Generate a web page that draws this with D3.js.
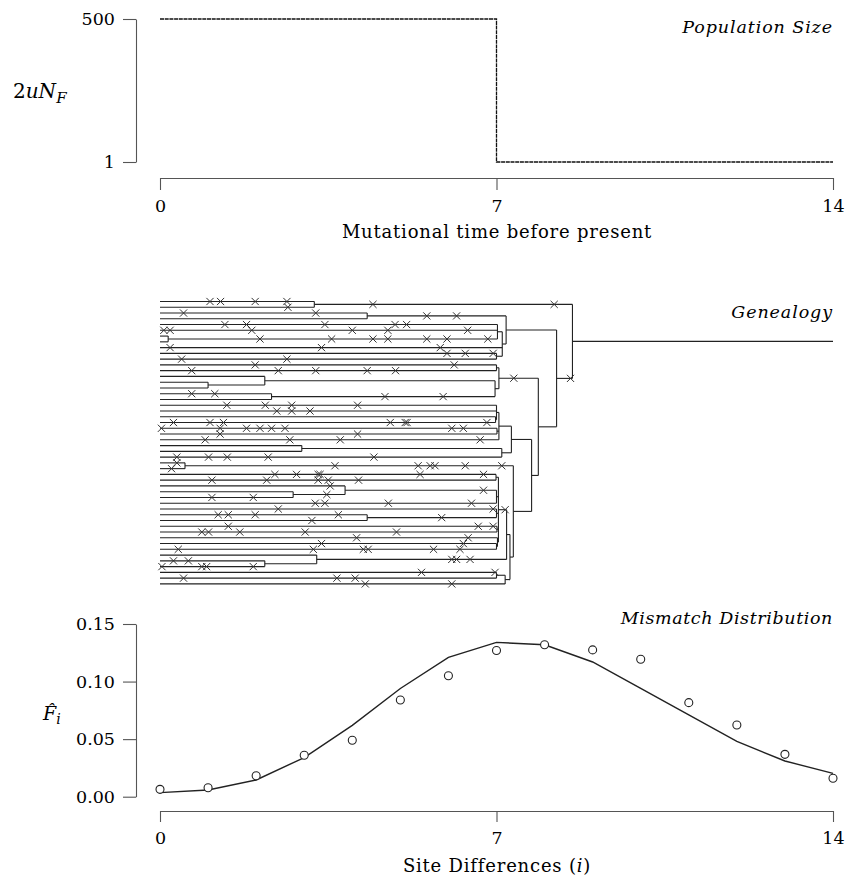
<!DOCTYPE html>
<html>
<head>
<meta charset="utf-8">
<script src="https://cdn.jsdelivr.net/npm/d3@7"></script>
<style>
  body { margin: 0; background: white; }
  text { font-family: "DejaVu Serif", "Liberation Serif", serif; fill: black; }
</style>
</head>
<body>
<div id="container"></div>
<script>
let w = 846;
let h = 879;

// DATA
// population size panel (step function)
let popTimes = [0, 7, 7, 14];
let popSizes = [500, 500, 1, 1];
let sizeTicks = [1, 500];
let timeTicks = [0, 7, 14];

// mismatch panel
let siteDiffs = [0, 1, 2, 3, 4, 5, 6, 7, 8, 9, 10, 11, 12, 13, 14];
let observedF = [0.0064, 0.0078, 0.0182, 0.036, 0.049, 0.084, 0.105, 0.127, 0.132, 0.1275, 0.1194, 0.0817, 0.0623, 0.0368, 0.016];
let expectedF = [0.0035, 0.0058, 0.0145, 0.034, 0.062, 0.094, 0.121, 0.134, 0.132, 0.117, 0.094, 0.071, 0.048, 0.031, 0.0203];
let mismatchTicks = [0, 0.05, 0.10, 0.15];

// genealogy: 50 sampled sequences (leaves 0..49 from top), internal nodes [id, time, children]
let leafCount = 50;
let treeNodes = [
  ["root", 8.58, ["nA", "nC"]],
  ["nA", 3.21, ["0", "1"]],
  ["nC", 8.25, ["nD", "nE"]],
  ["nD", 7.20, ["nB", "nK1"]],
  ["nB", 4.31, ["2", "3"]],
  ["nK1", 7.12, ["nK1a", "8", "nK1c"]],
  ["nK1a", 7.02, ["4", "5", "c67"]],
  ["c67", 0.17, ["6", "7"]],
  ["nK1c", 7.00, ["9", "10"]],
  ["nE", 7.87, ["nEtop", "nG"]],
  ["nEtop", 7.05, ["nL", "nF"]],
  ["nL", 7.00, ["11", "12"]],
  ["nF", 6.97, ["nF1", "nF2"]],
  ["nF1", 2.18, ["13", "c1415"]],
  ["c1415", 1.00, ["14", "15"]],
  ["nF2", 2.32, ["16", "17"]],
  ["nG", 7.73, ["nH", "nI"]],
  ["nH", 7.31, ["cl2", "nHb"]],
  ["cl2", 7.05, ["c2a", "c2c", "24"]],
  ["c2a", 7.00, ["18", "19", "c2b"]],
  ["c2b", 6.98, ["20", "21"]],
  ["c2c", 7.01, ["22", "23"]],
  ["nHb", 7.11, ["c2526", "27"]],
  ["c2526", 2.95, ["25", "26"]],
  ["nI", 7.35, ["c2829", "nJ"]],
  ["c2829", 0.52, ["28", "29"]],
  ["nJ", 7.28, ["nJtop", "nJbot"]],
  ["nJtop", 7.21, ["cl3", "n44"]],
  ["cl3", 7.04, ["cl3a", "cl3b", "cl3c", "cl3d", "cl3e"]],
  ["cl3a", 6.99, ["30", "31"]],
  ["cl3b", 7.00, ["n3234", "35"]],
  ["n3234", 3.85, ["32", "c3334"]],
  ["c3334", 2.77, ["33", "34"]],
  ["cl3c", 7.00, ["36", "c3738"]],
  ["c3738", 4.31, ["37", "38"]],
  ["cl3d", 7.01, ["39", "40"]],
  ["cl3e", 7.02, ["41", "cl3f"]],
  ["cl3f", 7.00, ["42", "43"]],
  ["n44", 3.26, ["44", "c4546"]],
  ["c4546", 2.18, ["45", "46"]],
  ["nJbot", 7.18, ["nJb1", "49"]],
  ["nJb1", 7.00, ["47", "48"]]
];

// mutations: [branch, time]
let mutations = [
  ["0", 1.04], ["0", 1.26], ["0", 1.98], ["0", 2.64], ["1", 2.66],
  ["nA", 4.43], ["nA", 8.2], ["2", 0.49], ["2", 3.24], ["nB", 5.55], ["nB", 6.17],
  ["4", 1.35], ["4", 1.80], ["4", 3.43], ["4", 4.89], ["4", 5.13],
  ["5", 0.08], ["5", 0.21], ["5", 1.91], ["5", 4.0], ["5", 4.74], ["5", 6.40],
  ["c67", 2.08], ["c67", 3.57], ["c67", 4.43], ["c67", 4.74], ["c67", 5.55], ["c67", 5.97], ["c67", 6.82],
  ["8", 0.21], ["8", 3.36], ["8", 5.83], ["9", 5.97], ["9", 6.35], ["9", 6.93],
  ["10", 0.45], ["10", 2.64], ["11", 1.98], ["11", 6.12],
  ["12", 0.66], ["12", 2.46], ["12", 3.24], ["12", 4.31], ["12", 4.90],
  ["nEtop", 7.36], ["nC", 8.54], ["16", 0.66], ["16", 1.14], ["nF2", 4.68], ["nF2", 5.89],
  ["18", 1.39], ["18", 2.19], ["18", 2.74], ["18", 4.11], ["19", 2.43], ["19", 2.74], ["19", 3.12],
  ["21", 0.28], ["21", 1.04], ["21", 1.32], ["21", 4.79], ["21", 5.10], ["21", 5.14], ["21", 6.80],
  ["22", 0.03], ["22", 1.25], ["22", 1.80], ["22", 2.08], ["22", 2.32], ["22", 2.60], ["22", 6.07], ["22", 6.31],
  ["23", 1.25], ["23", 4.11], ["24", 0.94], ["24", 2.70], ["24", 3.75], ["24", 6.66],
  ["27", 0.35], ["27", 1.01], ["27", 1.40], ["27", 2.25], ["27", 4.45], ["28", 0.35], ["29", 0.24],
  ["c2829", 3.64], ["c2829", 5.37], ["c2829", 5.62], ["c2829", 5.72], ["c2829", 6.35], ["c2829", 7.11],
  ["30", 2.39], ["30", 2.84], ["30", 3.29], ["30", 3.33], ["30", 5.41], ["30", 6.73],
  ["31", 1.08], ["31", 2.22], ["31", 3.29], ["31", 3.50], ["31", 4.13],
  ["32", 3.54], ["n3234", 6.73], ["c3334", 3.47], ["34", 1.08], ["34", 1.94],
  ["35", 3.23], ["35", 3.43], ["35", 4.75], ["35", 6.48], ["36", 2.46], ["36", 6.93], ["cl3", 7.18],
  ["37", 1.21], ["37", 1.42], ["37", 1.98], ["37", 3.71], ["38", 3.16], ["c3738", 5.86],
  ["39", 1.42], ["39", 6.62], ["39", 6.93], ["40", 0.87], ["40", 1.01], ["40", 1.66], ["40", 3.02], ["40", 4.92],
  ["41", 4.09], ["41", 6.41], ["42", 3.36], ["42", 6.31],
  ["43", 0.38], ["43", 3.19], ["43", 4.23], ["43", 4.33], ["43", 5.69], ["43", 6.24],
  ["45", 0.28], ["45", 0.59], ["n44", 6.07], ["n44", 6.17], ["n44", 6.45],
  ["46", 0.04], ["46", 0.87], ["46", 0.97], ["46", 1.94], ["47", 5.44], ["47", 6.97],
  ["48", 0.49], ["48", 3.68], ["48", 4.06], ["49", 4.27], ["49", 6.07]
];

// SVG
let viz = d3.select("#container").append("svg")
    .attr("width", w)
    .attr("height", h);

let axisColor = "#555";
let lineColor = "#222";
let fontMain = "DejaVu Serif";

// SCALES
let xScale = d3.scaleLinear().domain([0, 14]).range([160, 833]);
let popScale = d3.scaleLinear().domain([1, 500]).range([162, 19]);
let leafScale = d3.scaleLinear().domain([0, leafCount - 1]).range([301.5, 583.9]);
let fScale = d3.scaleLinear().domain([0, 0.15]).range([796.7, 624]);

function styleAxis(g){
  g.selectAll("path, line").attr("stroke", axisColor).attr("stroke-width", 1.1);
  g.selectAll("text").attr("font-family", fontMain).attr("font-size", 17.5).attr("fill", "black");
}

// ---------- TOP PANEL: population size ----------
viz.append("g")
    .attr("transform", "translate(0,178)")
    .call(d3.axisBottom(xScale).tickValues(timeTicks).tickSize(12).tickSizeOuter(0).tickPadding(10))
    .call(styleAxis);

viz.append("g")
    .attr("transform", "translate(136,0)")
    .call(d3.axisLeft(popScale).tickValues(sizeTicks).tickSize(13).tickSizeOuter(0).tickPadding(8))
    .call(styleAxis);

let popLine = d3.line()
    .x(function(d, i){ return xScale(d); })
    .y(function(d, i){ return popScale(popSizes[i]); });

viz.append("path")
    .attr("d", popLine(popTimes))
    .attr("fill", "none")
    .attr("stroke", "#111")
    .attr("stroke-width", 1.3)
    .attr("stroke-dasharray", "4,0.7");

viz.append("text")
    .attr("x", 833).attr("y", 33)
    .attr("text-anchor", "end")
    .attr("font-style", "italic")
    .attr("font-size", 17.5)
    .attr("letter-spacing", 0.9)
    .text("Population Size");

viz.append("text")
    .attr("x", 497).attr("y", 238)
    .attr("text-anchor", "middle")
    .attr("font-size", 18)
    .attr("letter-spacing", 0.8)
    .text("Mutational time before present");

let yLab1 = viz.append("text").attr("x", 13).attr("y", 98).attr("font-size", 20);
yLab1.append("tspan").text("2");
yLab1.append("tspan").attr("font-style", "italic").text("uN");
yLab1.append("tspan").attr("font-style", "italic").attr("font-size", 15).attr("dy", 5).text("F");

// ---------- MIDDLE PANEL: genealogy ----------
let nodeInfo = {};
for (let i = 0; i < leafCount; i++) {
  nodeInfo[String(i)] = { t: 0, y: leafScale(i), children: [] };
}
// build bottom-up: list is top-down so go in reverse
treeNodes.slice().reverse().forEach(function(n){
  let kids = n[2].map(function(k){ return nodeInfo[k]; });
  nodeInfo[n[0]] = { t: n[1], y: (kids[0].y + kids[kids.length - 1].y) / 2, children: n[2] };
});
treeNodes.forEach(function(n){
  n[2].forEach(function(k){ nodeInfo[k].parentT = n[1]; });
});
nodeInfo["root"].parentT = 14;

let branches = Object.keys(nodeInfo).map(function(k){ return nodeInfo[k]; });
let treeG = viz.append("g");

treeG.selectAll(".branch").data(branches).enter()
  .append("line")
    .attr("class", "branch")
    .attr("x1", function(d){ return xScale(d.t); })
    .attr("x2", function(d){ return xScale(d.parentT); })
    .attr("y1", function(d){ return d.y; })
    .attr("y2", function(d){ return d.y; })
    .attr("stroke", lineColor)
    .attr("stroke-width", 1.1);

treeG.selectAll(".join").data(treeNodes).enter()
  .append("line")
    .attr("class", "join")
    .attr("x1", function(d){ return xScale(d[1]); })
    .attr("x2", function(d){ return xScale(d[1]); })
    .attr("y1", function(d){ return nodeInfo[d[2][0]].y; })
    .attr("y2", function(d){ return nodeInfo[d[2][d[2].length - 1]].y; })
    .attr("stroke", lineColor)
    .attr("stroke-width", 1.1);

let s = 3.6;
treeG.selectAll(".mut").data(mutations).enter()
  .append("path")
    .attr("class", "mut")
    .attr("d", function(d){
      let cx = xScale(d[1]);
      let cy = nodeInfo[d[0]].y;
      return "M" + (cx - s) + "," + (cy - s) + "L" + (cx + s) + "," + (cy + s) +
             "M" + (cx - s) + "," + (cy + s) + "L" + (cx + s) + "," + (cy - s);
    })
    .attr("stroke", "#333")
    .attr("stroke-width", 1)
    .attr("fill", "none");

viz.append("text")
    .attr("x", 833).attr("y", 318)
    .attr("text-anchor", "end")
    .attr("font-style", "italic")
    .attr("font-size", 17.5)
    .attr("letter-spacing", 0.9)
    .text("Genealogy");

// ---------- BOTTOM PANEL: mismatch distribution ----------
viz.append("g")
    .attr("transform", "translate(0,811)")
    .call(d3.axisBottom(xScale).tickValues(timeTicks).tickSize(11).tickSizeOuter(0).tickPadding(10))
    .call(styleAxis);

viz.append("g")
    .attr("transform", "translate(136,0)")
    .call(d3.axisLeft(fScale).tickValues(mismatchTicks).tickFormat(d3.format(".2f")).tickSize(13).tickSizeOuter(0).tickPadding(8))
    .call(styleAxis);

let fLine = d3.line()
    .x(function(d){ return xScale(d); })
    .y(function(d, i){ return fScale(expectedF[i]); });

viz.append("path")
    .attr("d", fLine(siteDiffs))
    .attr("fill", "none")
    .attr("stroke", lineColor)
    .attr("stroke-width", 1.4);

viz.selectAll(".obs").data(siteDiffs).enter()
  .append("circle")
    .attr("class", "obs")
    .attr("cx", function(d){ return xScale(d); })
    .attr("cy", function(d, i){ return fScale(observedF[i]); })
    .attr("r", 4)
    .attr("fill", "white")
    .attr("stroke", lineColor)
    .attr("stroke-width", 1.1);

viz.append("text")
    .attr("x", 833).attr("y", 624)
    .attr("text-anchor", "end")
    .attr("font-style", "italic")
    .attr("font-size", 17.5)
    .attr("letter-spacing", 0.6)
    .text("Mismatch Distribution");

let xLab3 = viz.append("text").attr("x", 497).attr("y", 872).attr("text-anchor", "middle").attr("font-size", 18).attr("letter-spacing", 0.8);
xLab3.append("tspan").text("Site Differences (");
xLab3.append("tspan").attr("font-style", "italic").text("i");
xLab3.append("tspan").text(")");

let yLab3 = viz.append("text").attr("x", 43).attr("y", 720).attr("font-size", 19);
yLab3.append("tspan").attr("font-style", "italic").text("F\u0302");
yLab3.append("tspan").attr("font-style", "italic").attr("font-size", 14).attr("dy", 4).text("i");
</script>
</body>
</html>
